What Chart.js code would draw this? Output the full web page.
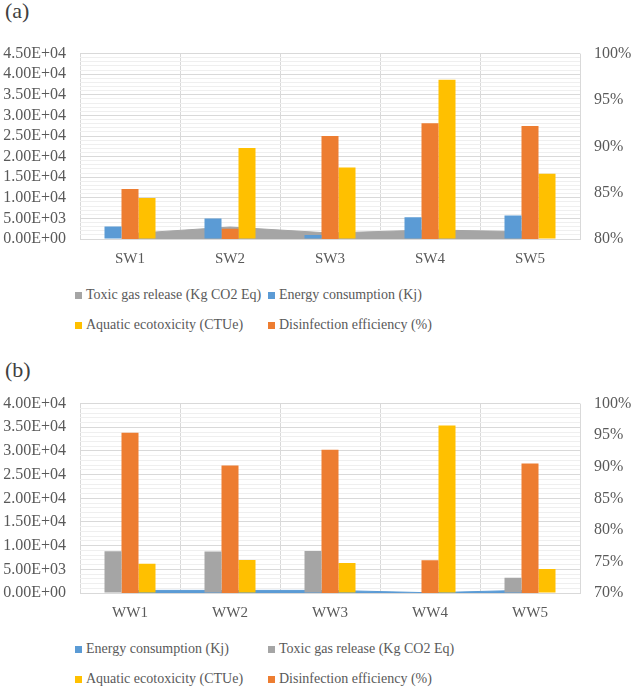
<!DOCTYPE html>
<html>
<head>
<meta charset="utf-8">
<script src="https://cdn.jsdelivr.net/npm/chart.js@4.4.1/dist/chart.umd.min.js"></script>
<style>
    body { margin: 0; width: 633px; height: 687px; background: #fff; position: relative; overflow: hidden;
           font-family: 'Liberation Serif', 'Times New Roman', serif; color: #595959; }
    .panel-tag { position: absolute; left: 5px; font-size: 22px; color: #404040; line-height: 26px; }
    .chart-box { position: absolute; left: 0; width: 633px; }
    .legend-item { position: absolute; display: flex; align-items: center; white-space: nowrap; font-size: 14px; line-height: 18px; }
    .legend-item .sw { width: 7px; height: 7px; margin-right: 4px; flex-shrink: 0; }
</style>
</head>
<body>
<div class="panel-tag" style="top:-2px">(a)</div>
<div class="chart-box" style="top:30px;height:250px"><canvas id="chartA"></canvas></div>
<div id="legendA"></div>
<div class="panel-tag" style="top:357px">(b)</div>
<div class="chart-box" style="top:380px;height:250px"><canvas id="chartB"></canvas></div>
<div id="legendB"></div>
<script>
// (a) surface water samples
const SW_LABELS = ['SW1', 'SW2', 'SW3', 'SW4', 'SW5'];
const SW_TOXIC = [1300, 2900, 1450, 2200, 1750];
const SW_ENERGY = [3050, 4950, 1000, 5250, 5700];
const SW_AQUATIC = [9950, 22100, 17350, 38650, 15850];
const SW_DISINF = [85.4, 81.1, 91.1, 92.5, 92.2];

// (b) wastewater samples
const WW_LABELS = ['WW1', 'WW2', 'WW3', 'WW4', 'WW5'];
const WW_ENERGY = [550, 550, 550, 50, 600];
const WW_TOXIC = [8800, 8750, 8850, 0, 3200];
const WW_AQUATIC = [6200, 6950, 6330, 35380, 5090];
const WW_DISINF = [95.4, 90.2, 92.7, 75.2, 90.5];

const NAME_TOXIC = 'Toxic gas release (Kg CO2 Eq)';
const NAME_ENERGY = 'Energy consumption (Kj)';
const NAME_AQUATIC = 'Aquatic ecotoxicity (CTUe)';
const NAME_DISINF = 'Disinfection efficiency (%)';

const COLORS = { blue: '#5B9BD5', orange: '#ED7D31', gray: '#A5A5A5', yellow: '#FFC000' };
const GRID = '#D9D9D9';
const MINOR_GRID = '#EFEFEF';
const TEXT = '#595959';
const LEG_COLS = [75, 268];

Chart.defaults.font.family = "'Liberation Serif', 'Times New Roman', serif";
Chart.defaults.font.size = 15;
Chart.defaults.color = TEXT;

// 4.50E+04 style labels like Excel
function sci(v) {
    if (v === 0) return '0.00E+00';
    const e = Math.floor(Math.log10(v));
    const m = v / Math.pow(10, e);
    return m.toFixed(2) + 'E+' + String(e).padStart(2, '0');
}

function barSet(label, data, color, axis) {
    return { type: 'bar', label, data, backgroundColor: color, borderWidth: 0, yAxisID: axis,
             categoryPercentage: 0.51, barPercentage: 1.0 };
}

function areaSet(label, data, color) {
    return { type: 'line', label, data, backgroundColor: color, borderColor: color, borderWidth: 1,
             pointRadius: 0, tension: 0, fill: 'origin', yAxisID: 'y' };
}

function buildChart(id, labels, datasets, leftMax, rightMin, xHeight, padTop) {
    return new Chart(document.getElementById(id), {
        type: 'bar',
        data: { labels, datasets },
        options: {
            responsive: true,
            maintainAspectRatio: false,
            animation: false,
            layout: { padding: { top: padTop, left: 0, right: 0, bottom: 0 } },
            plugins: { legend: { display: false }, tooltip: { enabled: false } },
            scales: {
                x: {
                    grid: { color: GRID, offset: true, drawTicks: false },
                    border: { color: GRID },
                    ticks: { padding: 11, color: TEXT },
                    afterFit: s => { s.height = xHeight; }
                },
                y: {
                    position: 'left', min: 0, max: leftMax,
                    ticks: { stepSize: 5000, padding: 14, color: TEXT, autoSkip: false, font: { size: 16 }, callback: v => sci(v) },
                    grid: { color: GRID, drawTicks: false },
                    border: { display: false },
                    afterFit: s => { s.width = 80; }
                },
                yMinor: {
                    position: 'left', min: 0, max: leftMax,
                    ticks: { display: false, stepSize: 1000, autoSkip: false },
                    grid: { drawTicks: false, color: ctx => (ctx.tick && ctx.tick.value % 5000 === 0) ? 'rgba(0,0,0,0)' : MINOR_GRID },
                    border: { display: false },
                    afterFit: s => { s.width = 0; }
                },
                y1: {
                    position: 'right', min: rightMin, max: 100,
                    ticks: { stepSize: 5, padding: 14, color: TEXT, autoSkip: false, font: { size: 16 }, callback: v => v + '%' },
                    grid: { drawOnChartArea: false, drawTicks: false },
                    border: { display: false },
                    afterFit: s => { s.width = 53; }
                }
            }
        }
    });
}

function buildLegend(el, chart, order, rowTops) {
    const sets = order.map(name => chart.data.datasets.find(d => d.label === name));
    el.innerHTML = sets.map((d, i) => {
        const col = i % 2, row = Math.floor(i / 2);
        return `<div class="legend-item" style="left:${LEG_COLS[col]}px;top:${rowTops[row]}px">
            <span class="sw" style="background:${d.backgroundColor}"></span>${d.label}</div>`;
    }).join('');
}

// area series go last so they are painted behind the bars
const chartA = buildChart('chartA', SW_LABELS, [
    barSet(NAME_ENERGY, SW_ENERGY, COLORS.blue, 'y'),
    barSet(NAME_DISINF, SW_DISINF, COLORS.orange, 'y1'),
    barSet(NAME_AQUATIC, SW_AQUATIC, COLORS.yellow, 'y'),
    areaSet(NAME_TOXIC, SW_TOXIC, COLORS.gray)
], 45000, 80, 41, 17);
buildLegend(document.getElementById('legendA'), chartA,
    [NAME_TOXIC, NAME_ENERGY, NAME_AQUATIC, NAME_DISINF], [286, 316]);

const chartB = buildChart('chartB', WW_LABELS, [
    barSet(NAME_TOXIC, WW_TOXIC, COLORS.gray, 'y'),
    barSet(NAME_DISINF, WW_DISINF, COLORS.orange, 'y1'),
    barSet(NAME_AQUATIC, WW_AQUATIC, COLORS.yellow, 'y'),
    areaSet(NAME_ENERGY, WW_ENERGY, COLORS.blue)
], 40000, 70, 37, 20);
buildLegend(document.getElementById('legendB'), chartB,
    [NAME_ENERGY, NAME_TOXIC, NAME_AQUATIC, NAME_DISINF], [640, 670]);
</script>
</body>
</html>
